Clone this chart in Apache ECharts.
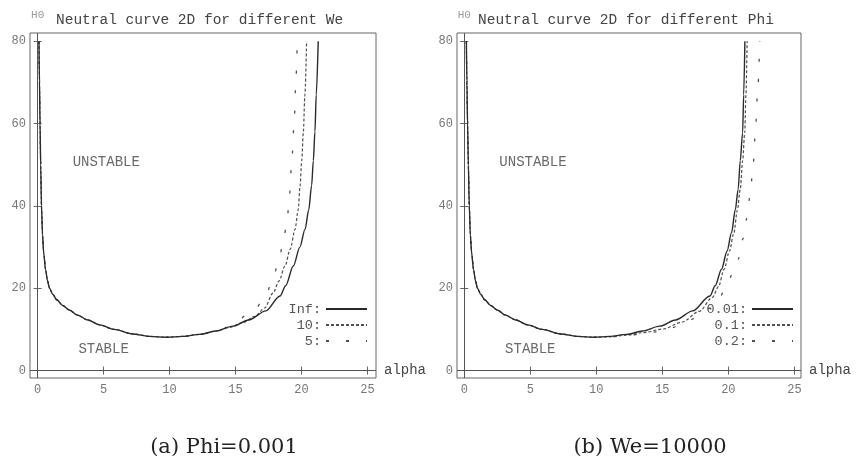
<!DOCTYPE html>
<html><head><meta charset="utf-8">
<script src="https://cdn.jsdelivr.net/npm/echarts@6/dist/echarts.min.js"></script>
<style>html,body{margin:0;padding:0;background:#fff}#c{width:861px;height:468px}</style>
</head><body><div id="c"></div>
<script>
// ---- tick labels / texts ----
const xTicks = [0, 5, 10, 15, 20, 25];
const yTicks = [0, 20, 40, 60, 80];
const panelTitles = ['Neutral curve 2D for different We', 'Neutral curve 2D for different Phi'];
const captions = ['(a) Phi=0.001', '(b) We=10000'];
const leftNames = ['Inf:', '10:', '5:'];
const rightNames = ['0.01:', '0.1:', '0.2:'];
const regionText = ['UNSTABLE', 'STABLE'];
const regionAlpha = [5.2, 5.0];
const regionH0 = [50.5, 5.1];

// ---- panel (a): Phi=0.001, different We ----
const weInfAlpha = [0.10,0.14,0.18,0.23,0.29,0.37,0.46,0.60,0.75,0.90,1.15,1.45,1.90,2.40,3.00,3.80,4.70,5.80,7.20,8.50,9.75,11.0,12.3,13.5,14.8,16.0,17.3,18.37,18.8,19.38,19.88,20.27,20.55,20.77,20.9,21.02,21.12,21.27];
const weInfH0    = [80,70,60,50,40,33,28.5,24.5,21.8,20,18.5,17.2,15.8,14.7,13.5,12.3,11.1,10,8.9,8.3,8.1,8.3,8.8,9.6,10.8,12.3,14.5,18.1,20.6,25.4,30,34.3,39,45,51,58,67,80];
const we10Alpha  = [0.10,0.14,0.18,0.23,0.29,0.37,0.46,0.60,0.75,0.90,1.15,1.45,1.90,2.40,3.00,3.80,4.70,5.80,7.20,8.50,9.75,11.0,12.3,13.5,14.5,15.5,16.5,17.2,17.86,18.3,18.75,19.15,19.51,19.75,19.89,20.02,20.14,20.26,20.39];
const we10H0     = [80,70,60,50,40,33,28.5,24.5,21.8,20,18.5,17.2,15.8,14.7,13.5,12.3,11.1,10,8.9,8.3,8.1,8.3,8.8,9.6,10.45,11.6,13.2,15.2,18.9,21.8,25.4,29.5,34.3,39,44.8,51,57.8,67,80];
const we5Alpha   = [0.10,0.14,0.18,0.23,0.29,0.37,0.46,0.60,0.75,0.90,1.15,1.45,1.90,2.40,3.00,3.80,4.70,5.80,7.20,8.50,9.75,11.0,12.3,13.5,14.3,15.09,15.9,16.6,17.0,17.4,17.85,18.24,18.62,18.92,19.1,19.26,19.45,19.57,19.68];
const we5H0      = [80,70,60,50,40,33,28.5,24.5,21.8,20,18.5,17.2,15.8,14.7,13.5,12.3,11.1,10,8.9,8.3,8.1,8.3,8.8,9.6,10.5,12,13.6,15.3,16.9,19.2,22.5,26.2,31.1,36.8,43,50.6,60.4,70,80];

// ---- panel (b): We=10000, different Phi ----
const phi001Alpha = [0.16,0.20,0.25,0.31,0.38,0.46,0.56,0.70,0.85,1.00,1.25,1.55,2.00,2.50,3.10,3.90,4.80,5.90,7.30,8.60,9.80,11.0,12.3,13.5,14.8,16.0,17.3,18.6,19.0,19.48,19.9,20.24,20.52,20.74,20.9,21.08,21.16,21.25];
const phi001H0    = [80,70,60,50,40,33,28.5,24.5,21.8,20,18.5,17.2,15.8,14.7,13.5,12.3,11.1,10,8.9,8.3,8.1,8.3,8.8,9.6,10.8,12.3,14.5,18.1,20.6,24.6,29,33.5,39,44,51,57.8,67,80];
const phi01Alpha  = [0.16,0.20,0.25,0.31,0.38,0.46,0.56,0.70,0.85,1.00,1.25,1.55,2.00,2.50,3.10,3.90,4.80,5.90,7.30,8.60,9.80,11.0,12.3,13.5,15.06,16.5,17.8,18.8,19.25,19.68,20.08,20.42,20.68,20.9,21.08,21.24,21.33,21.42];
const phi01H0     = [80,70,60,50,40,33,28.5,24.5,21.8,20,18.5,17.2,15.8,14.7,13.5,12.3,11.1,10,8.9,8.3,8.1,8.2,8.6,9.2,10.1,11.8,14.4,17.8,20.4,24.6,29,33.5,39,44,51,57.8,67,80];
const phi02Alpha  = [0.16,0.20,0.25,0.31,0.38,0.46,0.56,0.70,0.85,1.00,1.25,1.55,2.00,2.50,3.10,3.90,4.80,5.90,7.30,8.60,9.80,11.0,12.3,13.5,14.56,15.6,16.6,17.6,18.65,19.3,19.86,20.34,20.74,21.1,21.4,21.64,21.86,22.05,22.2,22.38];
const phi02H0     = [80,70,60,50,40,33,28.5,24.5,21.8,20,18.5,17.2,15.8,14.7,13.5,12.3,11.1,10,8.9,8.3,8.1,8.2,8.5,8.9,9.4,10.3,11.4,12.9,15.2,17.6,20.5,23.7,27,32,37,42.5,49,58,67,80];

const pairs = (a, h) => a.map((v, i) => [v, h[i]]);

const MONO = 'Liberation Mono';
const styles = [
  {color: '#2a2a2a', width: 1.4, type: 'solid'},
  {color: '#505050', width: 1.2, type: [3, 2]},
  {color: '#505050', width: 1.3, type: [3, 17]}
];

const grids = [
  {left: 30, top: 33, width: 346, height: 345, xmin: -0.58, xmax: 25.65},
  {left: 457, top: 33, width: 344, height: 345, xmin: -0.55, xmax: 25.5}
];
const YMIN = -1.8, YMAX = 82;

const xAxes = [], yAxes = [];
grids.forEach((g, gi) => {
  xAxes.push({
    gridIndex: gi, type: 'value', min: g.xmin, max: g.xmax, position: 'bottom',
    axisLine: {show: false}, splitLine: {show: false},
    axisTick: {inside: true, length: 4, customValues: xTicks, lineStyle: {color: '#666'}},
    axisLabel: {customValues: xTicks, margin: 6, color: '#777', fontFamily: MONO, fontSize: 12},
    name: 'alpha', nameLocation: 'end', nameGap: 8,
    nameTextStyle: {fontFamily: MONO, fontSize: 14, color: '#444', padding: [0, 0, 14, 0]}
  });
  xAxes.push({
    gridIndex: gi, type: 'value', min: g.xmin, max: g.xmax, position: 'top',
    axisLine: {show: false}, splitLine: {show: false},
    axisTick: {inside: true, length: 4, customValues: xTicks, lineStyle: {color: '#666'}},
    axisLabel: {show: false}
  });
  yAxes.push({
    gridIndex: gi, type: 'value', min: YMIN, max: YMAX, position: 'left',
    axisLine: {show: false}, splitLine: {show: false},
    axisTick: {inside: true, length: 4, customValues: yTicks, lineStyle: {color: '#666'}},
    axisLabel: {customValues: yTicks, margin: 4, color: '#777', fontFamily: MONO, fontSize: 12},
    name: 'H0', nameLocation: 'end', nameGap: 12,
    nameTextStyle: {fontFamily: MONO, fontSize: 11, color: '#999', align: 'center'}
  });
  yAxes.push({
    gridIndex: gi, type: 'value', min: YMIN, max: YMAX, position: 'right',
    axisLine: {show: false}, splitLine: {show: false},
    axisTick: {inside: true, length: 4, customValues: yTicks, lineStyle: {color: '#666'}},
    axisLabel: {show: false}
  });
});

function lineSeries(name, data, gi, si) {
  const s = {
    name, type: 'line', data, xAxisIndex: gi * 2, yAxisIndex: gi * 2,
    symbol: 'none', smooth: 0.3, smoothMonotone: 'x',
    lineStyle: styles[si], itemStyle: {color: styles[si].color},
    z: 3 - si, silent: true
  };
  if (si === 0) {
    s.markLine = {
      silent: true, symbol: ['none', 'none'], label: {show: false},
      lineStyle: {type: 'solid', color: '#555', width: 1}, animation: false,
      data: [{xAxis: 0}, {yAxis: 0}]
    };
  }
  return s;
}

function regionSeries(gi) {
  return {
    type: 'scatter', xAxisIndex: gi * 2, yAxisIndex: gi * 2, symbolSize: 0, silent: true,
    data: regionText.map((t, i) => ({value: [regionAlpha[i], regionH0[i]], name: t})),
    label: {show: true, position: 'inside', formatter: p => p.name,
      fontFamily: MONO, fontSize: 14, color: '#444'}
  };
}

const series = [
  lineSeries(leftNames[0], pairs(weInfAlpha, weInfH0), 0, 0),
  lineSeries(leftNames[1], pairs(we10Alpha, we10H0), 0, 1),
  lineSeries(leftNames[2], pairs(we5Alpha, we5H0), 0, 2),
  lineSeries(rightNames[0], pairs(phi001Alpha, phi001H0), 1, 0),
  lineSeries(rightNames[1], pairs(phi01Alpha, phi01H0), 1, 1),
  lineSeries(rightNames[2], pairs(phi02Alpha, phi02H0), 1, 2),
  regionSeries(0), regionSeries(1)
];

const legendBase = {
  orient: 'vertical', align: 'right', top: 301, padding: 0, itemWidth: 41, itemHeight: 10, itemGap: 0,
  selectedMode: false, textStyle: {fontFamily: MONO, fontSize: 13.5, color: '#555', lineHeight: 16},
  itemStyle: {color: 'rgba(0,0,0,0)', borderColor: 'rgba(0,0,0,0)', borderWidth: 0, opacity: 0}
};

const chart = echarts.init(document.getElementById('c'), null, {renderer: 'canvas'});
chart.setOption({
  animation: false,
  backgroundColor: '#fff',
  title: [
    {text: panelTitles[0], left: 56, top: 13, padding: 0,
     textStyle: {fontFamily: MONO, fontSize: 14.5, fontWeight: 'normal', color: '#444'}},
    {text: panelTitles[1], left: 478, top: 13, padding: 0,
     textStyle: {fontFamily: MONO, fontSize: 14.5, fontWeight: 'normal', color: '#444'}}
  ],
  legend: [
    Object.assign({}, legendBase, {right: 493, data: leftNames}),
    Object.assign({}, legendBase, {right: 67, data: rightNames})
  ],
  grid: grids.map(g => ({left: g.left, top: g.top, width: g.width, height: g.height,
    show: true, borderColor: '#666', borderWidth: 1, backgroundColor: 'transparent', containLabel: false})),
  xAxis: xAxes,
  yAxis: yAxes,
  series,
  graphic: [
    {type: 'text', x: 224, y: 448, style: {text: captions[0], align: 'center', verticalAlign: 'middle',
      font: '21px "DejaVu Serif"', fill: '#222'}},
    {type: 'text', x: 650, y: 448, style: {text: captions[1], align: 'center', verticalAlign: 'middle',
      font: '21px "DejaVu Serif"', fill: '#222'}}
  ]
});
</script>
</body></html>
